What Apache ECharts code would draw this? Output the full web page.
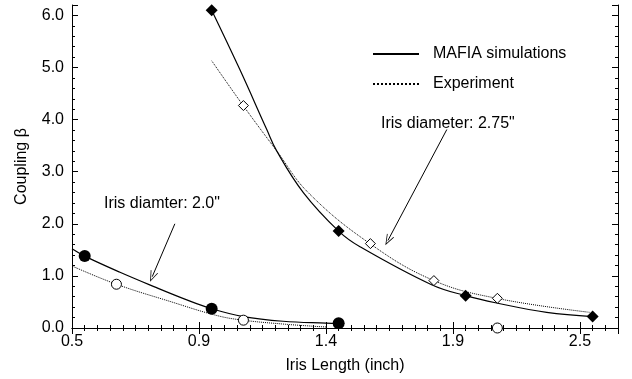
<!DOCTYPE html>
<html>
<head>
<meta charset="utf-8">
<script src="https://cdn.jsdelivr.net/npm/echarts@6/dist/echarts.min.js"></script>
<style>
  html, body { margin: 0; padding: 0; background: #fff; }
  #main { width: 632px; height: 379px; }
</style>
</head>
<body>
<div id="main"></div>
<script>
// tick labels as printed on the x axis (ticks sit at 0.45, 0.95, ...)
const xTickLabels = ['0.5', '0.9', '1.4', '1.9', '2.5']

// iris diameter 2.75"
const mafiaLen275 = [1.0, 1.5, 2.0, 2.5]
const mafiaBeta275 = [6.10, 1.86, 0.62, 0.22]
const expLen275 = [1.125, 1.625, 1.875, 2.125]
const expBeta275 = [4.27, 1.62, 0.91, 0.57]

// iris diameter 2.0"
const mafiaLen200 = [0.5, 1.0, 1.5]
const mafiaBeta200 = [1.38, 0.37, 0.09]
const expLen200 = [0.625, 1.125, 2.125]
const expBeta200 = [0.84, 0.15, 0.0]

// fitted curves
const mafiaCurveX275 = [1.0, 1.11, 1.217, 1.256, 1.361, 1.5, 1.584, 1.866, 2.0, 2.122, 2.319, 2.5]
const mafiaCurveY275 = [6.10, 4.97, 3.81, 3.40, 2.60, 1.86, 1.56, 0.83, 0.62, 0.48, 0.30, 0.22]
const expCurveX275 = [1.0, 1.124, 1.256, 1.380, 1.623, 1.875, 2.122, 2.49]
const expCurveY275 = [5.13, 4.27, 3.40, 2.60, 1.62, 0.91, 0.57, 0.30]
const mafiaCurveX200 = [0.45, 0.5, 0.639, 0.77, 0.902, 1.0, 1.124, 1.281, 1.45, 1.5]
const mafiaCurveY200 = [1.52, 1.38, 1.07, 0.80, 0.54, 0.37, 0.22, 0.13, 0.095, 0.09]
const expCurveX200 = [0.45, 0.625, 0.836, 1.02, 1.124, 1.281, 1.412, 1.45]
const expCurveY200 = [1.19, 0.84, 0.51, 0.24, 0.15, 0.076, 0.03, 0.02]

const zip = (xs, ys) => xs.map((x, i) => [x, ys[i]])

const FONT = 'Liberation Sans'
// open V arrow head
const ARROW = 'path://M5,0 L10,12 L9,12 L5,2.5 L1,12 L0,12 Z'
const axisBase = {
  type: 'value',
  axisLine: { show: true, lineStyle: { color: '#000', width: 1 } },
  axisTick: { show: true, inside: true, length: 6, lineStyle: { color: '#000' } },
  splitLine: { show: false },
  minorSplitLine: { show: false },
}

const myChart = echarts.init(document.getElementById('main'))
myChart.setOption({
  animation: false,
  textStyle: { fontFamily: FONT },
  grid: { left: 72, right: 14, top: 5, bottom: 49 },
  legend: {
    data: ['MAFIA simulations', 'Experiment'],
    orient: 'vertical',
    left: 372,
    top: 46,
    padding: 0,
    itemWidth: 46,
    itemHeight: 14,
    itemGap: 14,
    itemStyle: { color: 'transparent', borderWidth: 0, opacity: 0 },
    textStyle: { fontFamily: FONT, fontSize: 16, color: '#000', padding: [0, 0, 0, 9] },
  },
  xAxis: [
    Object.assign({}, axisBase, {
      min: 0.45,
      max: 2.6,
      interval: 0.5,
      minorTick: { show: true, splitNumber: 10, length: 3, lineStyle: { color: '#000' } },
      name: 'Iris Length (inch)',
      nameLocation: 'middle',
      nameGap: 30,
      nameTextStyle: { fontFamily: FONT, fontSize: 16, color: '#000' },
      axisLabel: {
        fontFamily: FONT,
        fontSize: 16,
        color: '#000',
        margin: 6,
        formatter: function (v) {
          let k = (v - 0.45) / 0.5
          if (Math.abs(k - Math.round(k)) > 0.01) return ''
          return xTickLabels[Math.round(k)] || ''
        },
      },
    }),
    Object.assign({}, axisBase, {
      position: 'top',
      min: 0.45,
      max: 2.6,
      interval: 0.5,
      minorTick: { show: true, splitNumber: 10, length: 3, lineStyle: { color: '#000' } },
      axisLabel: { show: false },
    }),
  ],
  yAxis: [
    Object.assign({}, axisBase, {
      min: 0,
      max: 6.2,
      interval: 1,
      minorTick: { show: true, splitNumber: 5, length: 3, lineStyle: { color: '#000' } },
      name: 'Coupling β',
      nameLocation: 'middle',
      nameGap: 42,
      nameTextStyle: { fontFamily: FONT, fontSize: 16, color: '#000' },
      axisLabel: {
        fontFamily: FONT,
        fontSize: 16,
        color: '#000',
        margin: 8,
        formatter: function (v) {
          return v.toFixed(1)
        },
      },
    }),
    Object.assign({}, axisBase, {
      position: 'right',
      min: 0,
      max: 6.2,
      interval: 1,
      minorTick: { show: true, splitNumber: 5, length: 3, lineStyle: { color: '#000' } },
      axisLabel: { show: false },
    }),
  ],
  series: [
    {
      name: 'MAFIA simulations',
      type: 'line',
      data: zip(mafiaCurveX275, mafiaCurveY275),
      smooth: 0.4,
      symbol: 'none',
      lineStyle: { color: '#000', width: 1.2 },
      itemStyle: { color: '#000' },
      markLine: {
        silent: true,
        symbol: ['none', ARROW],
        symbolSize: [8, 11],
        label: { show: false },
        lineStyle: { color: '#000', width: 1, type: 'solid' },
        data: [
          [{ coord: [1.926, 3.81] }, { coord: [1.694, 1.68] }],
          [{ coord: [0.855, 2.0] }, { coord: [0.766, 0.985] }],
        ],
      },
    },
    {
      name: 'Experiment',
      type: 'line',
      data: zip(expCurveX275, expCurveY275),
      smooth: 0.4,
      symbol: 'none',
      lineStyle: { color: '#000', width: 1, type: 'dotted' },
      itemStyle: { color: '#000' },
    },
    {
      name: 'MAFIA simulations',
      type: 'line',
      data: zip(mafiaCurveX200, mafiaCurveY200),
      smooth: 0.4,
      symbol: 'none',
      lineStyle: { color: '#000', width: 1.2 },
      itemStyle: { color: '#000' },
    },
    {
      name: 'Experiment',
      type: 'line',
      data: zip(expCurveX200, expCurveY200),
      smooth: 0.4,
      symbol: 'none',
      lineStyle: { color: '#000', width: 1, type: 'dotted' },
      itemStyle: { color: '#000' },
    },
    {
      name: 'mafia275pts',
      type: 'scatter',
      data: zip(mafiaLen275, mafiaBeta275),
      symbol: 'diamond',
      symbolSize: 12,
      itemStyle: { color: '#000', opacity: 1 },
      z: 5,
    },
    {
      name: 'exp275pts',
      type: 'scatter',
      data: zip(expLen275, expBeta275),
      symbol: 'diamond',
      symbolSize: 10,
      itemStyle: { color: '#fff', borderColor: '#000', borderWidth: 1, opacity: 1 },
      z: 5,
    },
    {
      name: 'mafia200pts',
      type: 'scatter',
      data: zip(mafiaLen200, mafiaBeta200),
      symbol: 'circle',
      symbolSize: 12,
      itemStyle: { color: '#000', opacity: 1 },
      z: 5,
    },
    {
      name: 'exp200pts',
      type: 'scatter',
      data: zip(expLen200, expBeta200),
      symbol: 'circle',
      symbolSize: 10,
      itemStyle: { color: '#fff', borderColor: '#000', borderWidth: 1, opacity: 1 },
      z: 5,
    },
  ],
  graphic: [
    {
      type: 'text',
      left: 381,
      top: 116,
      style: { text: 'Iris diameter: 2.75"', fontFamily: FONT, fontSize: 16, fill: '#000' },
    },
    {
      type: 'text',
      left: 104,
      top: 196,
      style: { text: 'Iris diamter: 2.0"', fontFamily: FONT, fontSize: 16, fill: '#000' },
    },
  ],
})
</script>
</body>
</html>
